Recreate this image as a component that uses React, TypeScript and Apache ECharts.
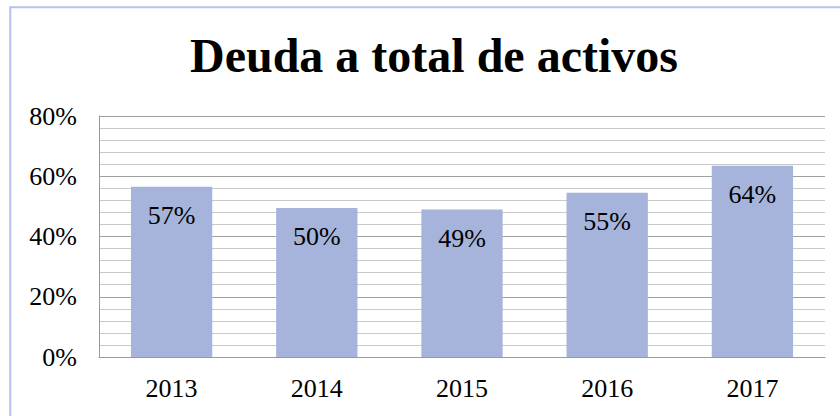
import React, { useEffect, useRef } from "react";
import * as echarts from "echarts";

const titleText = "Deuda a total de activos";
const years = ["2013", "2014", "2015", "2016", "2017"];
const debtRatio = [56.5, 49.5, 49.0, 54.5, 63.5];
const yTicks = { min: 0, max: 80, interval: 20 };

const FONT = "Liberation Serif";
const serifRich = {
  s: { fontFamily: FONT, fontSize: 26, color: "#000000", fontWeight: "normal" },
};

export default function App() {
  const ref = useRef<HTMLDivElement>(null);
  useEffect(() => {
    if (!ref.current) return;
    const chart = echarts.init(ref.current, undefined, { renderer: "svg" });
    chart.setOption({
      animation: false,
      backgroundColor: "#ffffff",
      textStyle: { fontFamily: FONT },
      title: {
        text: titleText,
        left: 190,
        top: 31,
        padding: 0,
        textStyle: {
          fontFamily: FONT,
          fontSize: 48,
          fontWeight: "bold",
          color: "#000000",
        },
      },
      graphic: [
        {
          type: "line",
          shape: { x1: 10.3, y1: 7.3, x2: 10.3, y2: 416 },
          style: { stroke: "#b8bff2", lineWidth: 2 },
        },
        {
          type: "line",
          shape: { x1: 9.3, y1: 7.3, x2: 840, y2: 7.3 },
          style: { stroke: "#b8bff2", lineWidth: 2 },
        },
      ],
      grid: { left: 99, right: 15, top: 116, bottom: 59 },
      xAxis: {
        type: "category",
        data: years,
        axisLine: { show: true, lineStyle: { color: "#9a9a9a", width: 1 } },
        axisTick: { show: false },
        axisLabel: {
          fontFamily: FONT,
          fontSize: 26,
          color: "#000000",
          margin: 18,
        },
      },
      yAxis: {
        type: "value",
        min: yTicks.min,
        max: yTicks.max,
        interval: yTicks.interval,
        axisLine: { show: true, lineStyle: { color: "#9a9a9a", width: 1 } },
        axisTick: { show: false },
        axisLabel: {
          formatter: (v: number) => "{s|" + v + "%}",
          rich: serifRich,
          fontFamily: FONT,
          fontSize: 26,
          color: "#000000",
          margin: 22,
        },
        splitLine: { show: true, lineStyle: { color: "#a0a0a0", width: 1 } },
        minorTick: { show: false, splitNumber: 5 },
        minorSplitLine: { show: true, lineStyle: { color: "#c9c9c9", width: 1 } },
      },
      series: [
        {
          type: "bar",
          data: debtRatio,
          barCategoryGap: "44%",
          itemStyle: { color: "#a6b4dc" },
          label: {
            show: true,
            position: "insideTop",
            distance: 16,
            formatter: (p: any) => "{s|" + Math.round(p.value) + "%}",
            rich: serifRich,
            fontFamily: FONT,
            fontSize: 26,
            fontWeight: "normal",
            color: "#000000",
          },
        },
      ],
    });
    return () => chart.dispose();
  }, []);
  return (
    <div
      ref={ref}
      style={{ position: "fixed", left: 0, top: 0, width: 840, height: 416 }}
    />
  );
}
